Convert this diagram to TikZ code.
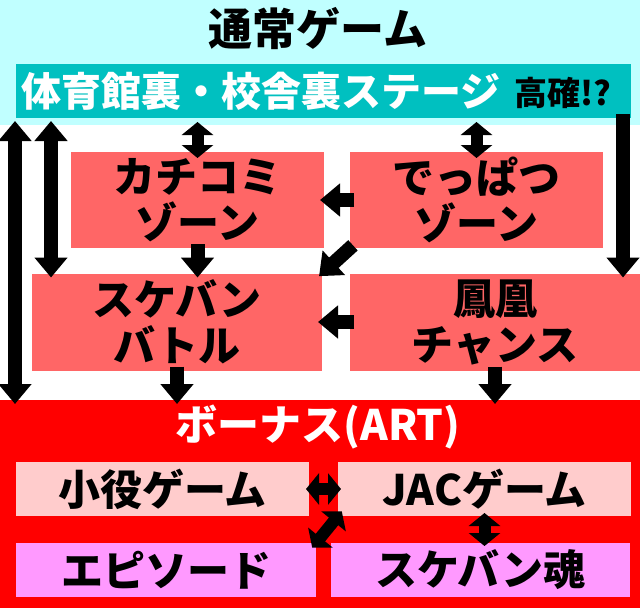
\documentclass[tikz,border=0pt]{standalone}
\usepackage{fontspec}
\setmainfont{Noto Sans CJK JP}
\usetikzlibrary{arrows.meta}
\definecolor{normalbg}{HTML}{C0FFFF}
\definecolor{stagebg}{HTML}{00C0C0}
\definecolor{zonebg}{HTML}{FF6666}
\definecolor{bonusbg}{HTML}{FF0000}
\definecolor{gamebg}{HTML}{FFCCCC}
\definecolor{epbg}{HTML}{FF99FF}

\begin{document}
\begin{tikzpicture}[x=1pt, y=-1pt]
        \tikzset{area/.style = {shape=rectangle, inner sep=0pt, outer sep=0pt}}
        \tikzset{zone/.style = {area, fill=zonebg, minimum height=96pt, align=center, font=\fontsize{42}{46}\selectfont\bfseries}}
        \tikzset{game/.style = {area, minimum height=54pt, font=\fontsize{42}{46}\selectfont\bfseries}}
        \tikzset{edge/.style = {line width=14pt, > = {Triangle[width=32pt, length=20pt]}, shorten >=-4pt, shorten <=-4pt}}
        \tikzset{twin/.style = {line width=12pt, > = {Triangle[width=31pt, length=13pt]}, shorten >=-3pt, shorten <=-3pt}}
        \useasboundingbox (0,0) rectangle (640,608);

        \node[area, fill=normalbg, minimum width=640pt, minimum height=125pt] (normal) at (320,62.5) {};
        \node[font=\fontsize{44}{48}\selectfont\bfseries] (title) at (318,29) {通常ゲーム};
        \node[area, fill=stagebg, minimum width=615pt, minimum height=54pt] (stage) at (323.5,91) {};
        \node[text=white, font=\fontsize{40}{46}\selectfont\bfseries] (stagename) at (261,91) {体育館裏・校舎裏ステージ};
        \node[font=\fontsize{33}{36}\selectfont\bfseries] (koukaku) at (563,93) {高確!?};

        \node[zone, minimum width=253pt] (kachi) at (197.5,200) {カチコミ\\ゾーン};
        \node[zone, minimum width=253pt] (deppa) at (476.5,200) {でっぱつ\\ゾーン};
        \node[zone, minimum width=290pt, minimum height=97pt] (battle) at (177,322) {スケバン\\バトル};
        \node[zone, minimum width=290pt, minimum height=97pt] (houou) at (495,322) {鳳凰\\チャンス};

        \node[area, fill=bonusbg, minimum width=640pt, minimum height=208pt] (bonus) at (320,504) {};
        \node[text=white, font=\fontsize{42}{46}\selectfont\bfseries] (bonusname) at (318,427) {ボーナス(ART)};
        \node[game, fill=gamebg, minimum width=293pt] (koyaku) at (162.5,489) {小役ゲーム};
        \node[game, fill=gamebg, minimum width=293pt] (jac) at (484.5,489) {JACゲーム};
        \node[game, fill=epbg, minimum width=300pt] (episode) at (166,570) {エピソード};
        \node[game, fill=epbg, minimum width=299pt] (soul) at (480.5,570) {スケバン魂};

        \coordinate (side1) at (15,0);
        \coordinate (side2) at (51,0);
        \coordinate (side3) at (623,0);

        \draw[edge,<->] (side1 |- normal.south) to (side1 |- bonus.north);
        \draw[edge,<->] (side2 |- normal.south) to (side2 |- battle.north);
        \draw[edge,->] (side3 |- stage.south) to (side3 |- houou.north);
        \draw[twin,<->, shorten >=-6pt] (kachi.north |- normal.south) to (kachi.north);
        \draw[twin,<->, shorten >=-6pt] (deppa.north |- normal.south) to (deppa.north);
        \draw[edge,->] (deppa.west) to (kachi.east);
        \draw[edge,->] (kachi.south) to (kachi.south |- battle.north);
        \draw[edge,->] (deppa.south west) to (battle.north east);
        \draw[edge,->] (houou.west) to (battle.east);
        \draw[edge,->] (battle.south) to (battle.south |- bonus.north);
        \draw[edge,->] (houou.south) to (houou.south |- bonus.north);
        \draw[twin,<->] (koyaku.east) to (jac.west);
        \draw[twin,<->, shorten >=-6pt, shorten <=-6pt] (jac.south west) to (episode.north east);
        \draw[twin,<->] (jac.south) to (jac.south |- soul.north);
      \end{tikzpicture}
\end{document}
